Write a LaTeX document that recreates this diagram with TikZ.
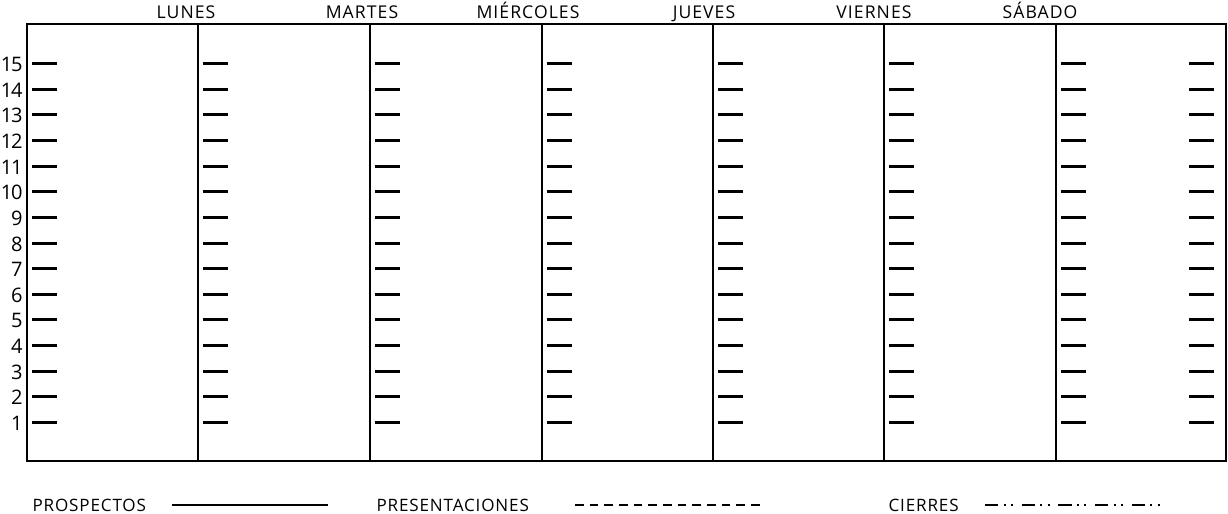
\documentclass[tikz,border=0pt]{standalone}
\usepackage{fontspec}
\setmainfont{Open Sans}
\usetikzlibrary{positioning}

\begin{document}
\begin{tikzpicture}[x=0.75pt, y=-0.75pt, thick,
    day label/.style={font=\addfontfeatures{LetterSpace=6}\fontsize{13.2}{15}\selectfont, inner sep=0pt, anchor=base},
    row label/.style={font=\addfontfeatures{LetterSpace=-6}\fontsize{15}{17}\selectfont, inner sep=0pt, anchor=base east},
    key label/.style={font=\addfontfeatures{LetterSpace=5}\fontsize{12.8}{15}\selectfont, inner sep=0pt, anchor=base west},
    frame line/.style={line width=1.6pt},
    tick line/.style={line width=2.25pt}]
    \useasboundingbox (0,0) rectangle (1228,514);

    % frame and day columns
    \draw[frame line] (27,24) rectangle (1226,461);
    \foreach \xx in {198,370,542,713,884,1056}
        \draw[frame line] (\xx,24) -- (\xx,461);

    % day names
    \node[day label] (lunes) at (186,18) {LUNES};
    \node[day label] (martes) at (362,18) {MARTES};
    \node[day label] (miercoles) at (528,18) {MIÉRCOLES};
    \node[day label] (jueves) at (704,18) {JUEVES};
    \node[day label] (viernes) at (874,18) {VIERNES};
    \node[day label] (sabado) at (1040,18) {SÁBADO};

    % row numbers and ticks
    \foreach \n in {1,...,15} {
        \pgfmathsetmacro{\yy}{round(422-(\n-1)*25.64)+0.5}
        \node[row label] (row\n) at (23,\yy+7.5) {\n};
        \foreach \xx in {27,198,370,542,713,884,1056}
            \draw[tick line] (\xx+5,\yy) -- (\xx+30,\yy);
        \draw[tick line] (1189,\yy) -- (1214,\yy);
    }

    % legend
    \node[key label] (prospectos) at (32,511) {PROSPECTOS};
    \coordinate (p1) at (172,505);
    \coordinate (p2) at (328,505);
    \draw[line width=1pt] (p1) -- (p2);

    \node[key label] (presentaciones) at (376,511) {PRESENTACIONES};
    \coordinate (q1) at (575,505);
    \coordinate (q2) at (760,505);
    \draw[line width=1.5pt, dash pattern=on 6.5pt off 4.5pt] (q1) -- (q2);

    \node[key label] (cierres) at (888,511) {CIERRES};
    \coordinate (c1) at (985,505);
    \coordinate (c2) at (1165,505);
    \draw[line width=1.5pt, dash pattern=on 10pt off 4pt on 1.5pt off 4pt on 1.5pt off 6.5pt] (c1) -- (c2);
\end{tikzpicture}
\end{document}
